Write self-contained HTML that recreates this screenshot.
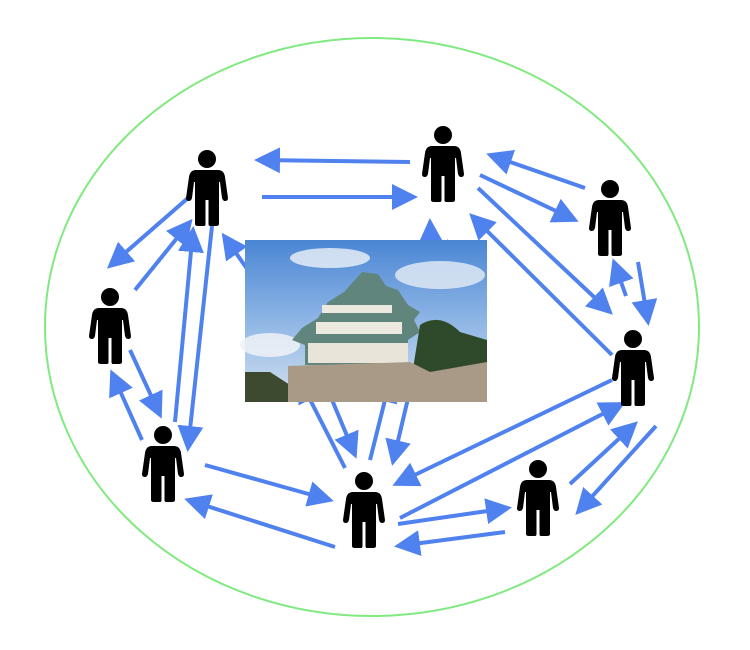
<!DOCTYPE html>
<html><head><style>
html,body{margin:0;padding:0;background:#fff;width:750px;height:650px;overflow:hidden}
</style></head><body>
<svg width="750" height="650" viewBox="0 0 750 650" xmlns="http://www.w3.org/2000/svg">
<defs>
<marker id="a" markerWidth="6.5" markerHeight="6.5" refX="5.5" refY="3.25" orient="auto" markerUnits="strokeWidth">
<path d="M0,0 L6.5,3.25 L0,6.5 z" fill="#4f82ee"/></marker>
<symbol id="p" viewBox="-22 -30 44 76">
<circle cx="0" cy="-21" r="9" fill="#000"/>
<path d="M-11,-10 H11 Q17,-10 18,-3 L21,18 Q21,21 18,21 Q16,21 15,18 L13,2 L12,2 L12,44 Q12,46 9,46 L3,46 Q1.5,46 1.5,44 L1.5,20 L-1.5,20 L-1.5,44 Q-1.5,46 -3,46 L-9,46 Q-12,46 -12,44 L-12,2 L-13,2 L-15,18 Q-16,21 -18,21 Q-21,21 -21,18 L-18,-3 Q-17,-10 -11,-10 z" fill="#000"/>
</symbol>
<linearGradient id="sky" x1="0" y1="0" x2="0" y2="1">
<stop offset="0" stop-color="#4a86d4"/><stop offset="0.6" stop-color="#9cbfe8"/><stop offset="1" stop-color="#d3e0ee"/></linearGradient>
</defs>
<ellipse cx="372" cy="327" rx="327" ry="289" fill="none" stroke="#80ea80" stroke-width="2"/>
<g stroke="#4f82ee" stroke-width="4" fill="none" marker-end="url(#a)">
<line x1="410" y1="162" x2="258" y2="160"/>
<line x1="262" y1="197" x2="414" y2="197"/>
<line x1="188" y1="198" x2="110" y2="266"/>
<line x1="135" y1="290" x2="190" y2="222"/>
<line x1="130" y1="350" x2="160" y2="415"/>
<line x1="142" y1="440" x2="112" y2="373"/>
<line x1="175" y1="422" x2="193" y2="230"/>
<line x1="212" y1="226" x2="188" y2="448"/>
<line x1="262" y1="290" x2="224" y2="236"/>
<line x1="205" y1="465" x2="330" y2="500"/>
<line x1="335" y1="547" x2="188" y2="500"/>
<line x1="398" y1="524" x2="508" y2="508"/>
<line x1="505" y1="532" x2="398" y2="546"/>
<line x1="612" y1="380" x2="396" y2="484"/>
<line x1="400" y1="518" x2="622" y2="404"/>
<line x1="570" y1="484" x2="635" y2="424"/>
<line x1="656" y1="426" x2="578" y2="512"/>
<line x1="585" y1="188" x2="490" y2="155"/>
<line x1="480" y1="175" x2="575" y2="220"/>
<line x1="626" y1="296" x2="614" y2="262"/>
<line x1="638" y1="262" x2="648" y2="322"/>
<line x1="478" y1="188" x2="610" y2="312"/>
<line x1="612" y1="355" x2="472" y2="216"/>
<line x1="433" y1="290" x2="430" y2="222"/>
<line x1="430" y1="330" x2="447" y2="243"/>
<line x1="330" y1="395" x2="355" y2="455"/>
<line x1="410" y1="390" x2="393" y2="462"/>
<line x1="345" y1="468" x2="300" y2="380"/>
<line x1="370" y1="460" x2="390" y2="380"/>
</g>
<g>
<rect x="245" y="240" width="242" height="162" fill="url(#sky)"/>
<ellipse cx="330" cy="258" rx="40" ry="10" fill="#eef2f8" opacity="0.8"/>
<ellipse cx="440" cy="275" rx="45" ry="14" fill="#e6edf5" opacity="0.8"/>
<ellipse cx="270" cy="345" rx="30" ry="12" fill="#eef2f6" opacity="0.85"/>
<path d="M362,272 L378,274 L386,286 L398,290 L408,305 L420,312 L414,320 L420,332 L408,340 L408,365 L305,365 L305,345 L292,340 L302,328 L318,318 L328,302 L344,292 z" fill="#5f857c"/>
<rect x="322" y="305" width="70" height="8" fill="#ece9e0"/>
<rect x="316" y="322" width="86" height="12" fill="#ece9e0"/>
<rect x="308" y="343" width="100" height="20" fill="#e8e4da"/>
<path d="M420,325 Q440,312 460,332 L487,340 L487,370 L412,375 z" fill="#2f4a2a"/>
<path d="M245,372 L270,372 L290,385 L290,402 L245,402 z" fill="#3d4a30"/>
<path d="M288,366 L410,362 L430,372 L487,362 L487,402 L288,402 z" fill="#a89a86"/>
</g>
<use href="#p" x="185" y="150" width="44" height="76"/>
<use href="#p" x="421" y="126" width="44" height="76"/>
<use href="#p" x="588" y="180" width="44" height="76"/>
<use href="#p" x="88" y="288" width="44" height="76"/>
<use href="#p" x="611" y="330" width="44" height="76"/>
<use href="#p" x="141" y="426" width="44" height="76"/>
<use href="#p" x="342" y="472" width="44" height="76"/>
<use href="#p" x="516" y="460" width="44" height="76"/>
</svg>
</body></html>
